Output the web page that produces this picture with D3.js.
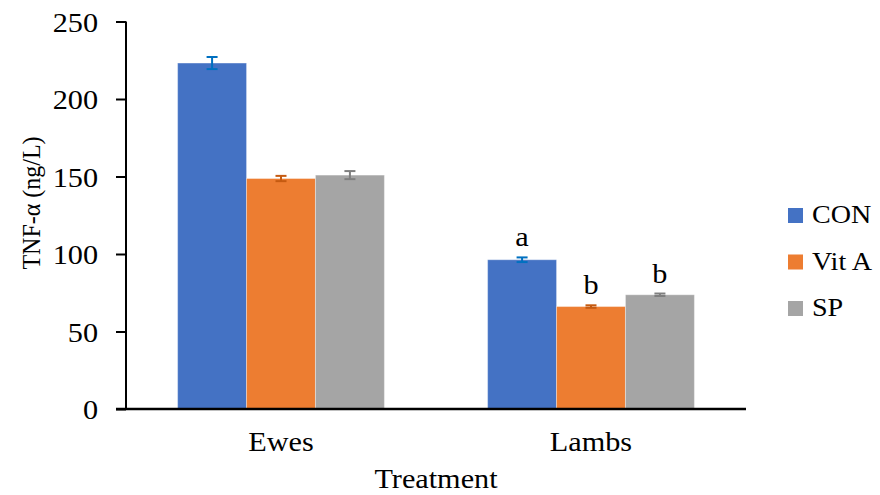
<!DOCTYPE html>
<html>
<head>
<meta charset="utf-8">
<script src="https://cdn.jsdelivr.net/npm/d3@7"></script>
<style>
  html, body { margin: 0; padding: 0; background: #fff; }
  svg { display: block; }
</style>
</head>
<body>
<svg id="chart" width="880" height="495"></svg>
<script>
// Groups, treatments and TNF-α means (ng/L) with their standard errors
const groups = ["Ewes", "Lambs"];
const treatments = ["CON", "Vit A", "SP"];
const conValues = [223.2, 96.3];
const vitAValues = [148.7, 66.1];
const spValues = [150.9, 73.7];
const conErrors = [3.9, 1.5];
const vitAErrors = [1.7, 0.8];
const spErrors = [2.6, 0.8];
const lambLetters = ["a", "b", "b"];
const yTicks = [0, 50, 100, 150, 200, 250];

const barColors = ["#4472C4", "#ED7D31", "#A5A5A5"];
const errColors = ["#0070C0", "#C55A11", "#7F7F7F"];
const FONT = "'Liberation Serif', 'Times New Roman', Tinos, 'DejaVu Serif', serif";
const SX = 1.08; // slightly wide lettering

const seriesValues = [conValues, vitAValues, spValues];
const seriesErrors = [conErrors, vitAErrors, spErrors];

const rows = [];
groups.forEach((g, gi) => {
  treatments.forEach((t, ti) => {
    rows.push({
      group: g, treatment: t, ti,
      value: seriesValues[ti][gi],
      err: seriesErrors[ti][gi],
      letter: g === "Lambs" ? lambLetters[ti] : null
    });
  });
});

const svg = d3.select("#chart");
const margin = { left: 126, right: 134, top: 21.5, bottom: 86 };
const W = 880, H = 495;

const x0 = d3.scaleBand()
  .domain(groups)
  .range([margin.left, W - margin.right])
  .paddingInner(0.333)
  .paddingOuter(0.1665);

const x1 = d3.scaleBand()
  .domain(treatments)
  .range([0, x0.bandwidth()]);

const y = d3.scaleLinear()
  .domain([0, 250])
  .range([H - margin.bottom, margin.top]);

// Places a text at (x, y) with the wide lettering
function wideText(sel, x, yy, size) {
  return sel.append("text")
    .attr("transform", `translate(${x},${yy}) scale(${SX},1)`)
    .style("font-family", FONT)
    .style("font-size", size + "px")
    .attr("fill", "#000");
}

// Bars
svg.append("g").selectAll("rect")
  .data(rows)
  .join("rect")
  .attr("x", d => x0(d.group) + x1(d.treatment))
  .attr("y", d => y(d.value))
  .attr("width", x1.bandwidth())
  .attr("height", d => y(0) - y(d.value))
  .attr("fill", d => barColors[d.ti])
  .attr("stroke", "#fff")
  .attr("stroke-opacity", 0.35)
  .attr("stroke-width", 1);

// Error bars
const cap = 5.5;
const cx = d => x0(d.group) + x1(d.treatment) + x1.bandwidth() / 2;
const eb = svg.append("g").selectAll("g")
  .data(rows)
  .join("g")
  .attr("stroke", d => errColors[d.ti])
  .attr("stroke-width", 2);
eb.append("line")
  .attr("x1", cx).attr("x2", cx)
  .attr("y1", d => y(d.value + d.err))
  .attr("y2", d => y(d.value - d.err));
eb.append("line")
  .attr("x1", d => cx(d) - cap).attr("x2", d => cx(d) + cap)
  .attr("y1", d => y(d.value + d.err))
  .attr("y2", d => y(d.value + d.err));
eb.append("line")
  .attr("x1", d => cx(d) - cap).attr("x2", d => cx(d) + cap)
  .attr("y1", d => y(d.value - d.err))
  .attr("y2", d => y(d.value - d.err));

// Significance letters above the lamb bars
const letterG = svg.append("g");
rows.filter(d => d.letter).forEach(d => {
  wideText(letterG, cx(d), y(d.value + d.err) - 11, 28)
    .attr("text-anchor", "middle")
    .text(d.letter);
});

// Y axis
const yAxis = svg.append("g")
  .attr("transform", `translate(${margin.left},0)`)
  .call(d3.axisLeft(y).tickValues(yTicks).tickSize(10).tickPadding(18));
yAxis.select(".domain").attr("stroke", "#000").attr("stroke-width", 2)
  .attr("d", `M0,${y(250)}V${y(0)}`);
yAxis.selectAll(".tick line").attr("stroke", "#000").attr("stroke-width", 2);
yAxis.selectAll(".tick text")
  .style("font-family", FONT).style("font-size", "28px")
  .attr("fill", "#000").attr("dy", "0.34em")
  .attr("x", -28 / SX)
  .attr("transform", `scale(${SX},1)`);

// X axis
const xAxis = svg.append("g")
  .attr("transform", `translate(0,${y(0)})`)
  .call(d3.axisBottom(x0).tickSize(0).tickPadding(22));
xAxis.select(".domain").attr("stroke", "#000").attr("stroke-width", 2.5)
  .attr("d", `M${margin.left - 10},0H${W - margin.right}`);
xAxis.selectAll(".tick text")
  .style("font-family", FONT).style("font-size", "28px")
  .attr("fill", "#000")
  .attr("transform", `scale(${SX},1)`);

// Axis titles
wideText(svg, (margin.left + W - margin.right) / 2, 488, 28)
  .attr("text-anchor", "middle")
  .text("Treatment");

svg.append("text")
  .attr("transform", "translate(40,203) rotate(-90) scale(1,1.08)")
  .attr("text-anchor", "middle")
  .style("font-family", FONT).style("font-size", "24px")
  .attr("fill", "#000")
  .text("TNF-α (ng/L)");

// Legend
const legend = svg.append("g").attr("transform", "translate(788,208)");
const li = legend.selectAll("g")
  .data(treatments)
  .join("g")
  .attr("transform", (d, i) => `translate(0,${i * 46.5})`);
li.append("rect")
  .attr("width", 15).attr("height", 15)
  .attr("fill", (d, i) => barColors[i]);
li.each(function (d) {
  wideText(d3.select(this), 24, 15, 26).text(d);
});
</script>
</body>
</html>
